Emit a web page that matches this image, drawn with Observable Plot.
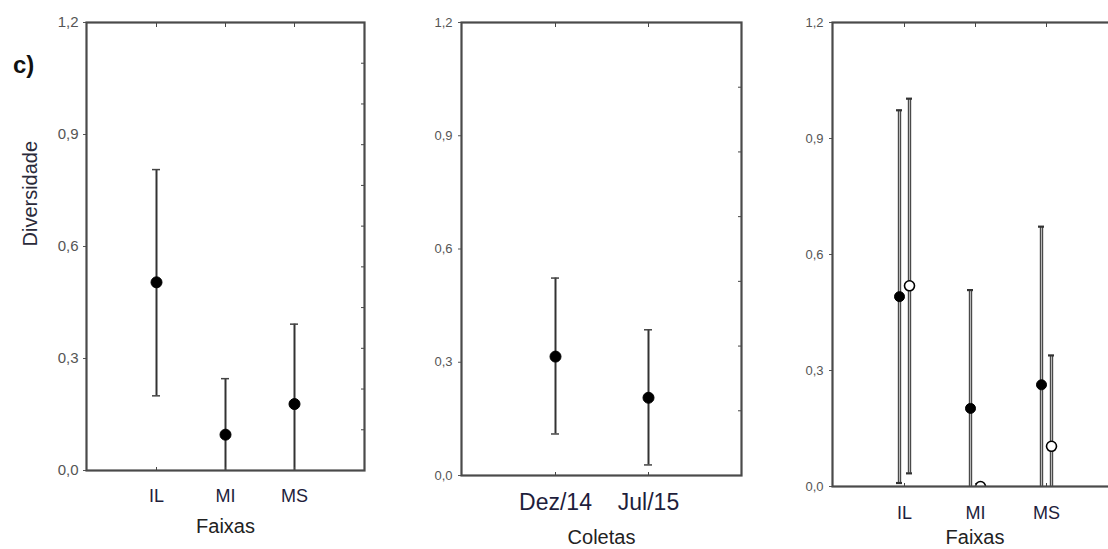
<!DOCTYPE html>
<html>
<head>
<meta charset="utf-8">
<script src="https://cdn.jsdelivr.net/npm/d3@7"></script>
<script src="https://cdn.jsdelivr.net/npm/@observablehq/plot@0.6"></script>
<style>
  html, body { margin: 0; padding: 0; background: #fff; overflow: hidden; }
  #fig { position: relative; width: 1108px; height: 549px; overflow: hidden; font-family: "Liberation Sans", Arial, sans-serif; }
  #fig > svg { position: absolute; top: 0; }
  #tag { position: absolute; left: 13px; top: 53px; font: bold 24px/24px "Liberation Sans", Arial, sans-serif; color: #111; }
</style>
</head>
<body>
<div id="fig"><div id="tag">c)</div></div>
<script>
// Diversidade por faixa (média e intervalo)
const faixas = ["IL", "MI", "MS"];
const faixaMedia = [0.504, 0.096, 0.178];
const faixaInf = [0.200, -0.054, -0.036];
const faixaSup = [0.806, 0.246, 0.392];

// Diversidade por coleta
const coletas = ["Dez/14", "Jul/15"];
const coletaMedia = [0.315, 0.206];
const coletaInf = [0.110, 0.028];
const coletaSup = [0.523, 0.386];

// Faixa × coleta (preenchido: Dez/14, vazado: Jul/15)
const dezMedia = [0.491, 0.202, 0.263];
const dezInf = [0.009, -0.104, -0.146];
const dezSup = [0.973, 0.508, 0.672];
const julMedia = [0.519, 0.000, 0.104];
const julInf = [0.034, 0.000, -0.131];
const julSup = [1.003, 0.000, 0.339];

// eixo Y
const yTicks = [0, 0.3, 0.6, 0.9, 1.2];
const yMax = 1.2;
const fmt = d => d3.format(".1f")(d).replace(".", ",");
const minorTicks = n => d3.range(n + 1).map(k => yMax * k / n);

const FONT = "'Liberation Sans', Arial, sans-serif";

function panel(o) {
  const marks = [];
  for (const s of o.series) {
    const rows = o.cats.map((c, i) => ({c, m: s.media[i], lo: s.inf[i], hi: s.sup[i]}));
    const bars = rows.filter(d => d.hi > d.lo);
    marks.push(Plot.ruleX(bars, {x: "c", y1: "lo", y2: "hi", dx: s.dx, stroke: s.bar, strokeWidth: s.barWidth, clip: true}));
    if (s.barInner) {
      marks.push(Plot.ruleX(bars, {x: "c", y1: "lo", y2: "hi", dx: s.dx, stroke: s.barInner, strokeWidth: 1, clip: true}));
    }
    for (const end of ["lo", "hi"]) {
      marks.push(Plot.tickY(bars, {x: "c", y: end, dx: s.dx, insetLeft: -s.cap, insetRight: -s.cap,
        stroke: s.capColor, strokeWidth: s.capWidth, clip: true}));
    }
    marks.push(Plot.dot(rows, {x: "c", y: "m", dx: s.dx, r: s.r, fill: s.fill, stroke: "#000",
      strokeWidth: s.dotStroke, clip: true}));
  }
  marks.push(
    Plot.axisY({ticks: yTicks, tickFormat: fmt, tickSize: 3, tickPadding: o.yPad, fontSize: o.yFont,
      color: "#555", label: null}),
    Plot.axisY({anchor: "right", ticks: minorTicks(o.rightN), tickSize: -4, tickFormat: () => "",
      color: "#444", label: null}),
    Plot.axisX({anchor: "top", tickSize: -4, tickFormat: () => "", color: "#444", label: null}),
    Plot.axisX({anchor: "bottom", tickSize: -3, tickFormat: () => "", color: "#444", label: null}),
    Plot.axisX({anchor: "bottom", tickSize: 0, tickPadding: o.xPad, fontSize: o.xFont, color: "#1e1e3c", label: null}),
    Plot.frame({stroke: "#4a4a4a", strokeWidth: 2.2}),
    Plot.text([o.xTitle], {frameAnchor: "bottom", dy: o.titleDy, fontSize: 20, fill: "#222", lineAnchor: "middle"})
  );
  if (o.yTitle) {
    marks.push(Plot.text([o.yTitle], {frameAnchor: "left", dx: -56, rotate: -90, fontSize: 20, fill: "#2a2a3a",
      lineAnchor: "middle"}));
  }
  const svg = Plot.plot({
    width: o.width, height: 549,
    marginLeft: o.mL, marginRight: o.mR, marginTop: 22, marginBottom: o.mB,
    style: {fontFamily: FONT, background: "transparent", overflow: "visible"},
    x: {type: "band", domain: o.cats, paddingInner: 1, paddingOuter: 1},
    y: {domain: [0, yMax]},
    marks
  });
  svg.style.left = o.left + "px";
  document.getElementById("fig").appendChild(svg);
}

const solid = {dx: 0, bar: "#333", barWidth: 2, cap: 4, capColor: "#444", capWidth: 1.5, r: 5.5, fill: "#000", dotStroke: 1};

panel({
  left: 0, width: 372, mL: 86, mR: 8, mB: 79,
  cats: faixas, rightN: 11, yPad: 5, yFont: 15, xPad: 19, xFont: 18,
  xTitle: "Faixas", titleDy: 56, yTitle: "Diversidade",
  series: [{...solid, media: faixaMedia, inf: faixaInf, sup: faixaSup}]
});

panel({
  left: 372, width: 372, mL: 89, mR: 3, mB: 74,
  cats: coletas, rightN: 7, yPad: 6, yFont: 13, xPad: 18, xFont: 23,
  xTitle: "Coletas", titleDy: 62,
  series: [{...solid, media: coletaMedia, inf: coletaInf, sup: coletaSup}]
});

const hollowBar = {bar: "#4a4a4a", barWidth: 3.4, barInner: "#b8b8b8", cap: 3, capColor: "#333", capWidth: 2.2};
panel({
  left: 744, width: 377, mL: 88, mR: 4, mB: 63,
  cats: faixas, rightN: 11, yPad: 6, yFont: 13, xPad: 20, xFont: 18,
  xTitle: "Faixas", titleDy: 51,
  series: [
    {...hollowBar, dx: -5, r: 5, fill: "#000", dotStroke: 1, media: dezMedia, inf: dezInf, sup: dezSup},
    {...hollowBar, dx: 5, r: 5, fill: "#fff", dotStroke: 1.6, media: julMedia, inf: julInf, sup: julSup}
  ]
});
</script>
</body>
</html>
